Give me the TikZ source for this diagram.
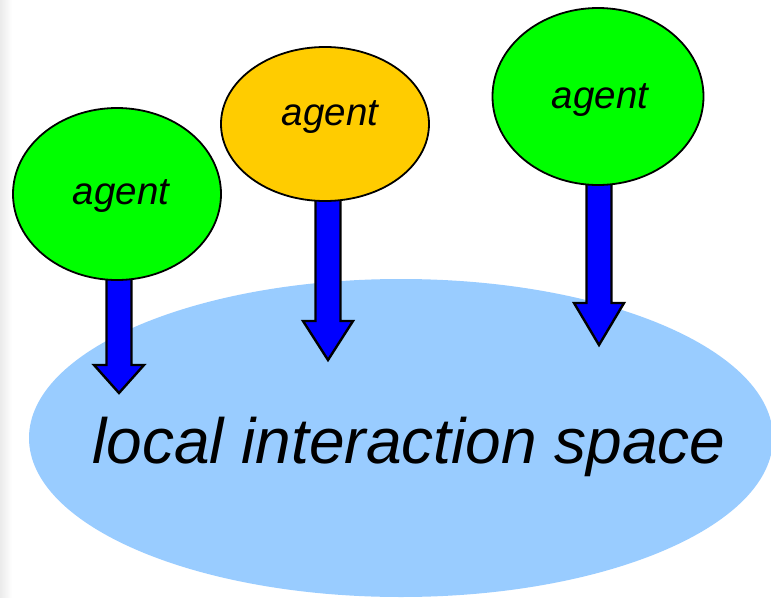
\documentclass[tikz,border=0pt]{standalone}
\usepackage{fontspec}
\setmainfont{Liberation Sans}
\usetikzlibrary{shapes.geometric}
\definecolor{agentgreen}{HTML}{00FF00}
\definecolor{agentorange}{HTML}{FFCC00}
\definecolor{spaceblue}{HTML}{99CCFF}
\definecolor{arrowblue}{HTML}{0000FF}
\tikzset{
  agentnode/.style={ellipse, draw=black, line width=1.8pt, minimum width=208pt, minimum height=174pt, inner sep=0pt},
  agenttext/.style={font=\fontsize{38.5}{44}\selectfont\itshape, inner sep=0pt, anchor=base},
  spacenode/.style={ellipse, fill=spaceblue, minimum width=744pt, minimum height=318pt, inner sep=0pt},
  barrowstyle/.style={fill=arrowblue, draw=black, line width=2.4pt, line join=miter},
  bigtext/.style={font=\fontsize{64}{72}\selectfont\itshape, inner sep=0pt, anchor=base}
}
\newcommand\blockarrow[4]{%
  \filldraw[barrowstyle] (#1-12.5,#2) -- (#1+12.5,#2) -- (#1+12.5,#3) -- (#1+25,#3) -- (#1,#4) -- (#1-25,#3) -- (#1-12.5,#3) -- cycle;}
\begin{document}
\begin{tikzpicture}[x=1pt,y=-1pt]
\useasboundingbox (0,0) rectangle (771,597);
\fill[white] (0,0) rectangle (771,597);
\shade[left color=black!8, right color=white] (0,0) rectangle (12,597);
\node[spacenode] (space) at (401,438) {};
\node[bigtext] (label) at (409,463) {local interaction space};
\blockarrow{119}{260}{365}{393}
\blockarrow{328}{180}{321}{360}
\blockarrow{599}{165}{303}{345}
\node[agentnode, fill=agentgreen, minimum height=172pt] (a1) at (117,194) {};
\node[agentnode, fill=agentorange, minimum height=154pt] (a2) at (325,124) {};
\node[agentnode, fill=agentgreen, minimum width=211pt, minimum height=177pt] (a3) at (598,96.5) {};
\node[agenttext] (t1) at (121,204) {agent};
\node[agenttext] (t2) at (330,125) {agent};
\node[agenttext] (t3) at (600,108) {agent};
\end{tikzpicture}
\end{document}
